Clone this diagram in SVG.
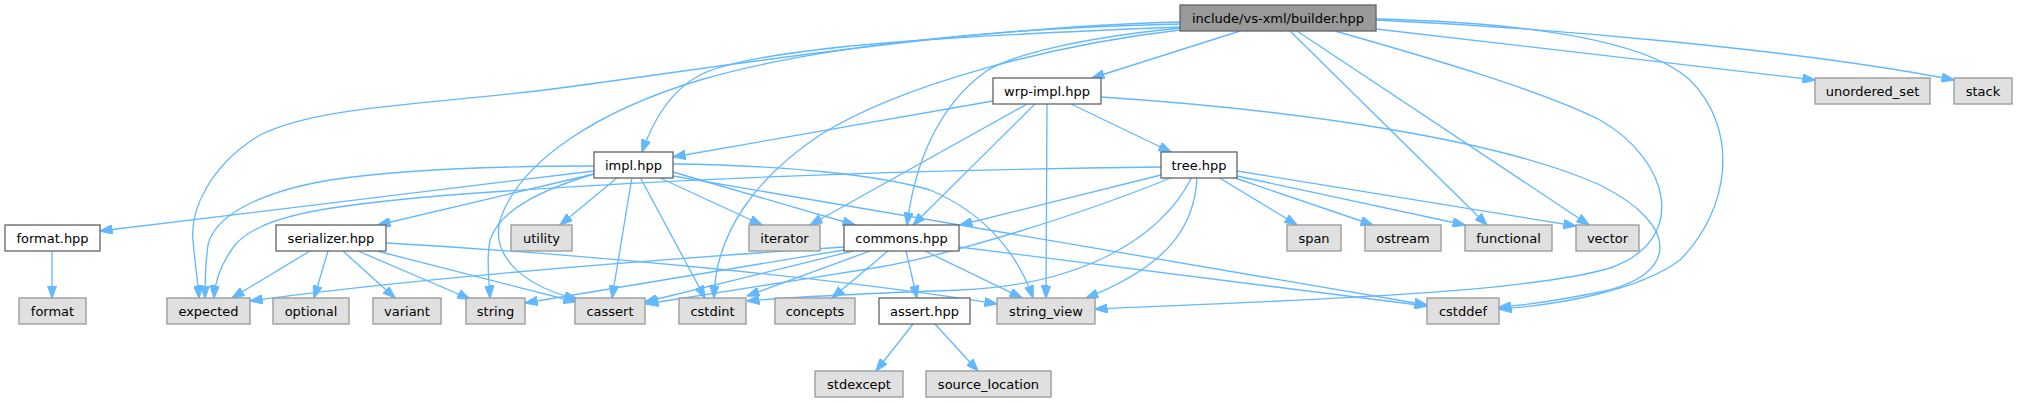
<svg xmlns="http://www.w3.org/2000/svg" width="2017" height="403" viewBox="0 0 2017 403">
<style>
rect{stroke-width:1.33}
.w rect{fill:#fff;stroke:#666}
.g rect{fill:#e0e0e0;stroke:#999}
.b rect{fill:#999;stroke:#666}
text{font-family:"DejaVu Sans","Liberation Sans",sans-serif;font-size:13px;text-anchor:middle;fill:#000}
#edges path{fill:none;stroke:#63b8ff;stroke-width:1.33;marker-end:url(#a)}
</style>
<defs>
<marker id="a" viewBox="0 0 13 9.4" refX="12.5" refY="4.7" markerWidth="13" markerHeight="9.4" markerUnits="userSpaceOnUse" orient="auto">
<path d="M0,0 L13,4.7 L0,9.4 z" fill="#63b8ff" stroke="#63b8ff" stroke-width="1"/>
</marker>
</defs>
<rect width="2017" height="403" fill="#fff"/>
<g id="edges">
<path d="M1240,31 L1092,78"/>
<path d="M1180,27 C980,35 760,45 700,75 C675,88 655,115 642,152"/>
<path d="M1180,28 C1080,38 1010,55 985,72 C940,105 915,160 907,225"/>
<path d="M1180,30 C1050,45 900,85 820,135 C760,175 715,230 714,298"/>
<path d="M1180,24 C1000,28 820,45 700,80 C600,110 520,160 500,220 C490,260 530,288 577,299"/>
<path d="M1180,22 C950,28 700,70 560,88 C430,105 320,105 260,135 C210,165 190,210 193,240 C195,265 198,282 199,298"/>
<path d="M1290,31 L1487,225"/>
<path d="M1297,31 L1589,225"/>
<path d="M1335,31 C1430,58 1540,90 1600,120 C1670,160 1690,240 1610,268 C1520,295 1250,302 1095,309"/>
<path d="M1376,19 C1500,22 1640,35 1690,80 C1740,130 1730,210 1680,260 C1640,290 1560,305 1499,309"/>
<path d="M1376,29 L1815,80"/>
<path d="M1376,20 C1550,28 1800,50 1954,80"/>
<path d="M993,101 L673,157"/>
<path d="M1071,104 L1171,152"/>
<path d="M1027,104 L810,225"/>
<path d="M1035,104 L913,225"/>
<path d="M1047,104 L1046,298"/>
<path d="M1101,97 C1300,110 1500,140 1600,185 C1680,225 1680,275 1600,292 C1560,300 1530,305 1499,307"/>
<path d="M594,171 L100,231"/>
<path d="M594,174 L378,225"/>
<path d="M594,166 C500,166 400,170 330,180 C260,192 215,215 208,245 C205,265 205,280 205,298"/>
<path d="M618,177 L560,225"/>
<path d="M597,173 C540,190 500,210 490,240 C486,260 489,280 490,298"/>
<path d="M632,177 L612,298"/>
<path d="M640,177 L705,298"/>
<path d="M658,177 L762,225"/>
<path d="M673,172 L855,225"/>
<path d="M673,164 C780,165 880,175 930,190 C990,215 1020,260 1033,298"/>
<path d="M673,176 L1427,305"/>
<path d="M310,251 L232,298"/>
<path d="M328,251 L314,298"/>
<path d="M343,251 L395,298"/>
<path d="M358,251 L470,299"/>
<path d="M377,251 L576,302"/>
<path d="M386,243 C600,255 850,280 997,304"/>
<path d="M844,247 C650,260 400,280 250,301"/>
<path d="M844,250 L525,303"/>
<path d="M853,251 L645,302"/>
<path d="M870,251 L747,296"/>
<path d="M888,251 L832,298"/>
<path d="M906,251 L917,298"/>
<path d="M925,251 L1022,298"/>
<path d="M959,247 L1427,306"/>
<path d="M1161,175 L960,225"/>
<path d="M1161,167 C900,170 650,180 450,195 C330,205 260,215 235,245 C222,262 215,280 214,298"/>
<path d="M1173,177 C1080,215 950,255 880,267 C800,280 700,295 646,304"/>
<path d="M1192,177 C1160,240 1080,285 960,290 C880,293 800,296 747,301"/>
<path d="M1197,177 C1195,225 1170,265 1086,298"/>
<path d="M1218,177 L1297,225"/>
<path d="M1232,177 L1373,225"/>
<path d="M1237,176 L1465,225"/>
<path d="M1237,171 L1576,226"/>
<path d="M913,324 L876,371"/>
<path d="M935,324 L978,371"/>
<path d="M52,251 L52,298"/>
</g>
<g id="builder" class="b"><rect x="1180" y="5" width="196" height="26"/><text x="1278" y="22.5">include/vs-xml/builder.hpp</text></g>
<g id="wrp-impl" class="w"><rect x="993" y="78" width="108" height="26"/><text x="1047" y="95.5">wrp-impl.hpp</text></g>
<g id="unordered_set" class="g"><rect x="1815" y="78" width="115" height="26"/><text x="1872.5" y="95.5">unordered_set</text></g>
<g id="stack" class="g"><rect x="1954" y="78" width="58" height="26"/><text x="1983" y="95.5">stack</text></g>
<g id="impl" class="w"><rect x="594" y="152" width="79" height="26"/><text x="633.5" y="169.5">impl.hpp</text></g>
<g id="tree" class="w"><rect x="1161" y="152" width="76" height="26"/><text x="1199" y="169.5">tree.hpp</text></g>
<g id="format-hpp" class="w"><rect x="5" y="225" width="95" height="26"/><text x="52.5" y="242.5">format.hpp</text></g>
<g id="serializer" class="w"><rect x="276" y="225" width="110" height="26"/><text x="331" y="242.5">serializer.hpp</text></g>
<g id="utility" class="g"><rect x="511" y="225" width="61" height="26"/><text x="541.5" y="242.5">utility</text></g>
<g id="iterator" class="g"><rect x="749" y="225" width="71" height="26"/><text x="784.5" y="242.5">iterator</text></g>
<g id="commons" class="w"><rect x="844" y="225" width="115" height="26"/><text x="901.5" y="242.5">commons.hpp</text></g>
<g id="span" class="g"><rect x="1287" y="225" width="54" height="26"/><text x="1314" y="242.5">span</text></g>
<g id="ostream" class="g"><rect x="1365" y="225" width="76" height="26"/><text x="1403" y="242.5">ostream</text></g>
<g id="functional" class="g"><rect x="1465" y="225" width="87" height="26"/><text x="1508.5" y="242.5">functional</text></g>
<g id="vector" class="g"><rect x="1576" y="225" width="63" height="26"/><text x="1607.5" y="242.5">vector</text></g>
<g id="format" class="g"><rect x="19" y="298" width="67" height="26"/><text x="52.5" y="315.5">format</text></g>
<g id="expected" class="g"><rect x="167" y="298" width="83" height="26"/><text x="208.5" y="315.5">expected</text></g>
<g id="optional" class="g"><rect x="273" y="298" width="76" height="26"/><text x="311" y="315.5">optional</text></g>
<g id="variant" class="g"><rect x="373" y="298" width="68" height="26"/><text x="407" y="315.5">variant</text></g>
<g id="string" class="g"><rect x="466" y="298" width="59" height="26"/><text x="495.5" y="315.5">string</text></g>
<g id="cassert" class="g"><rect x="575" y="298" width="70" height="26"/><text x="610" y="315.5">cassert</text></g>
<g id="cstdint" class="g"><rect x="679" y="298" width="67" height="26"/><text x="712.5" y="315.5">cstdint</text></g>
<g id="concepts" class="g"><rect x="775" y="298" width="80" height="26"/><text x="815" y="315.5">concepts</text></g>
<g id="assert" class="w"><rect x="879" y="298" width="91" height="26"/><text x="924.5" y="315.5">assert.hpp</text></g>
<g id="string_view" class="g"><rect x="997" y="298" width="98" height="26"/><text x="1046" y="315.5">string_view</text></g>
<g id="cstddef" class="g"><rect x="1427" y="298" width="72" height="26"/><text x="1463" y="315.5">cstddef</text></g>
<g id="stdexcept" class="g"><rect x="815" y="371" width="88" height="26"/><text x="859" y="388.5">stdexcept</text></g>
<g id="source_location" class="g"><rect x="926" y="371" width="125" height="26"/><text x="988.5" y="388.5">source_location</text></g>
</svg>
